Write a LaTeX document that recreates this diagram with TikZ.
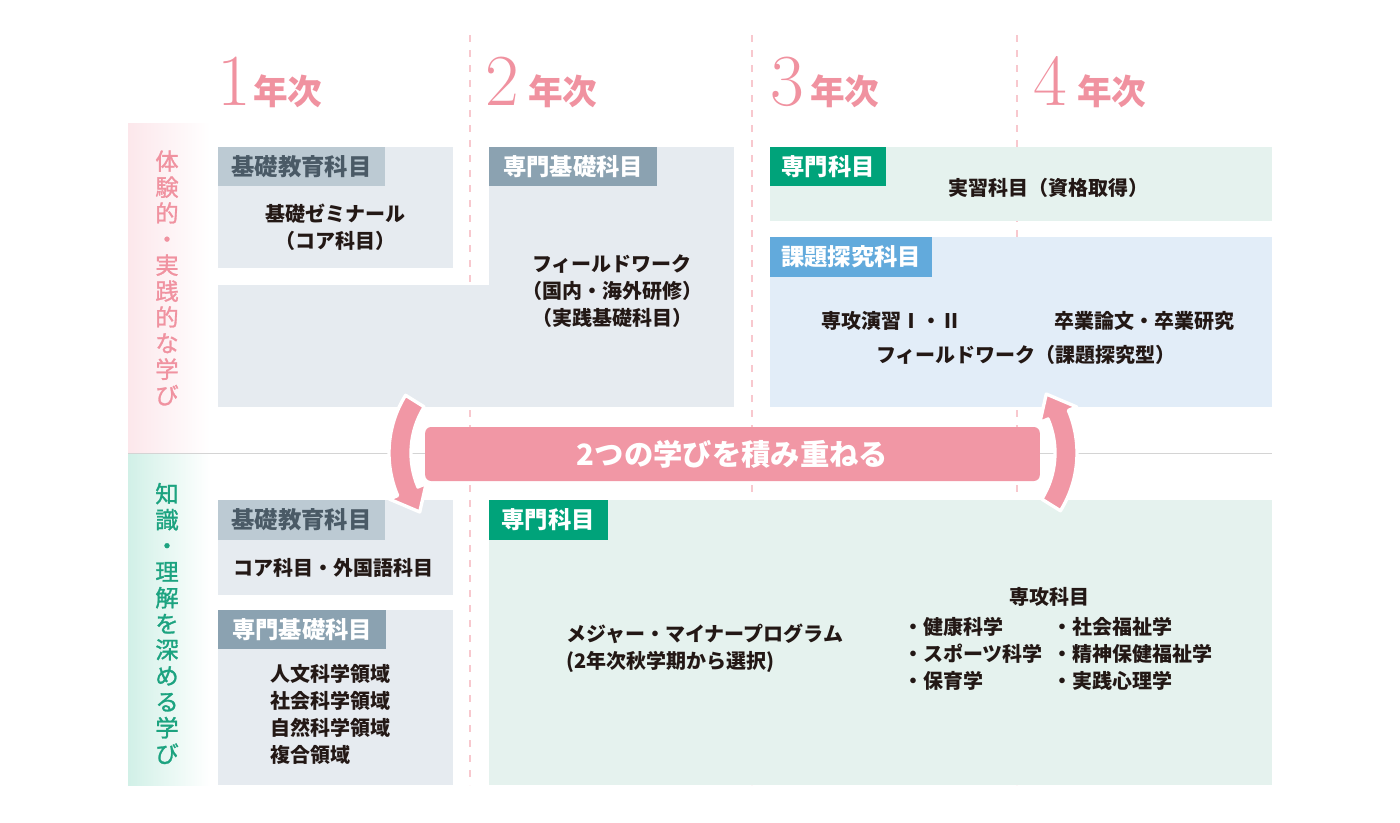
\documentclass[tikz,border=0pt]{standalone}
\usepackage{fontspec}
\usepackage{xcolor}
\usetikzlibrary{calc}
\newfontfamily\jpfont{Noto Sans CJK JP}
\newfontfamily\jpmidfont[FakeBold=1.2]{Noto Sans CJK JP}
\definecolor{yearPink}{RGB}{240,146,160}
\definecolor{bandPink}{RGB}{252,231,235}
\definecolor{bandTeal}{RGB}{209,240,231}
\definecolor{sideTeal}{RGB}{28,163,128}
\definecolor{gridPink}{RGB}{248,200,206}
\definecolor{boxGrey}{RGB}{230,235,240}
\definecolor{tagPale}{RGB}{188,202,211}
\definecolor{tagSlate}{RGB}{139,162,177}
\definecolor{tagInk}{RGB}{74,90,102}
\definecolor{tagGreen}{RGB}{0,163,122}
\definecolor{boxGreen}{RGB}{229,242,238}
\definecolor{tagBlue}{RGB}{98,170,220}
\definecolor{boxBlue}{RGB}{226,237,248}
\definecolor{bannerPink}{RGB}{241,151,165}
\definecolor{bodyInk}{RGB}{35,24,21}
\definecolor{ruleGrey}{RGB}{212,212,212}

\begin{document}
\begin{tikzpicture}[x=0.75pt, y=-0.75pt,
    yearnum/.style={anchor=base west, inner sep=0pt, text=yearPink, font=\fontsize{55}{55}\selectfont},
    yearkanji/.style={anchor=base west, inner sep=0pt, text=yearPink, font=\jpfont\bfseries\fontsize{26}{26}\selectfont},
    sidetext/.style={inner sep=0pt, align=center, font=\jpmidfont\fontsize{17.5}{19.5}\selectfont},
    tagtext/.style={inner sep=0pt, text=white, font=\jpfont\bfseries\fontsize{17.5}{20}\selectfont},
    bodytext/.style={inner sep=0pt, align=center, text=bodyInk, font=\jpfont\bfseries\fontsize{15}{20.3}\selectfont},
    gridline/.style={gridPink, line width=1.5pt, dash pattern=on 5.25pt off 6pt},
    bannerbox/.style={fill=bannerPink, rounded corners=4.5pt, minimum width=461pt, minimum height=40.5pt, inner sep=0pt, text=white, font=\jpfont\bfseries\fontsize{22}{22}\selectfont},
    bentarrow/.style={fill=bannerPink, draw=white, line width=2.5pt, line join=round}]
  \useasboundingbox (0,0) rectangle (1400,822);

  \shade[left color=bandPink, right color=white] (128,123) rectangle (210,453);
  \shade[left color=bandTeal, right color=white] (128,453) rectangle (210,785);
  \draw[ruleGrey, line width=0.75pt] (128,453) -- (1272,453);
  \foreach \gx in {470,752,1017}
    \draw[gridline] (\gx,35) -- (\gx,785);

  \foreach \yr/\nx/\kx in {1/217/253, 2/485/528, 3/770/810, 4/1033/1077} {
    \node[yearnum] (num\yr) at (\nx,105) {\yr};
    \node[yearkanji] (year\yr) at (\kx,104) {年次};
  }

  \node[sidetext, text=yearPink] (practical) at (167,278) {体\\験\\的\\・\\実\\践\\的\\な\\学\\び};
  \node[sidetext, text=sideTeal] (knowledge) at (167,623.5) {知\\識\\・\\理\\解\\を\\深\\め\\る\\学\\び};

  \fill[boxGrey] (218,147) rectangle (453,268);
  \fill[boxGrey] (489,147) rectangle (734,407);
  \fill[boxGrey] (218,285) rectangle (734,407);
  \fill[boxGreen] (770,147) rectangle (1272,221);
  \fill[boxBlue] (770,237) rectangle (1272,407);
  \fill[boxGrey] (218,500) rectangle (453,595);
  \fill[boxGrey] (218,610) rectangle (453,785);
  \fill[boxGreen] (489,500) rectangle (1272,785);

  \fill[tagPale] (218,147) rectangle (385,186);
  \fill[tagSlate] (489,147) rectangle (657,186);
  \fill[tagGreen] (770,147) rectangle (886,186);
  \fill[tagBlue] (770,237) rectangle (932,277);
  \fill[tagPale] (218,500) rectangle (385,540);
  \fill[tagSlate] (218,610) rectangle (386,649);
  \fill[tagGreen] (489,500) rectangle (608,540);

  \node[tagtext, text=tagInk] (basicA) at (301.5,166.5) {基礎教育科目};
  \node[tagtext] (foundA) at (573,166.5) {専門基礎科目};
  \node[tagtext] (majorA) at (828,166.5) {専門科目};
  \node[tagtext] (inquiry) at (851,257) {課題探究科目};
  \node[tagtext, text=tagInk] (basicB) at (301.5,520) {基礎教育科目};
  \node[tagtext] (foundB) at (302,629.5) {専門基礎科目};
  \node[tagtext] (majorB) at (548,520) {専門科目};

  \node[bodytext] (seminar) at (335,227.5) {基礎ゼミナール\\（コア科目）};
  \node[bodytext] (fieldA) at (612,291) {フィールドワーク\\（国内・海外研修）\\（実践基礎科目）};
  \node[bodytext] (practicum) at (1048,188) {実習科目（資格取得）};
  \node[bodytext] (majorsem) at (891,321) {専攻演習Ⅰ・Ⅱ};
  \node[bodytext] (thesis) at (1144,321) {卒業論文・卒業研究};
  \node[bodytext] (fieldB) at (1026,355) {フィールドワーク（課題探究型）};
  \node[bodytext] (core) at (333,568) {コア科目・外国語科目};
  \node[bodytext, anchor=west, align=left] (areas) at (270,714.5) {人文科学領域\\社会科学領域\\自然科学領域\\複合領域};
  \node[bodytext, anchor=west, align=left] (program) at (566,648.5) {メジャー・マイナープログラム\\(2年次秋学期から選択)};
  \node[bodytext] (majorhead) at (1049,597) {専攻科目};
  \node[bodytext, anchor=west, align=left] (listA) at (903,653.5) {・健康科学\\・スポーツ科学\\・保育学};
  \node[bodytext, anchor=west, align=left] (listB) at (1052,653.5) {・社会福祉学\\・精神保健福祉学\\・実践心理学};

  \node[bannerbox] (banner) at (732.5,454) {2つの学びを積み重ねる};

  \coordinate (lc) at (498,453);
  \coordinate (rc) at (968,453);
  \filldraw[bentarrow] ($(lc)+(212:109)$) arc[start angle=212, end angle=157, radius=109]
    -- ($(lc)+(157:118)$) -- ($(lc)+(143:98)$) -- ($(lc)+(157:78)$) -- ($(lc)+(157:87)$)
    arc[start angle=157, end angle=212, radius=87] -- cycle;
  \filldraw[bentarrow] ($(rc)+(32:109)$) arc[start angle=32, end angle=-23, radius=109]
    -- ($(rc)+(-23:118)$) -- ($(rc)+(-37:98)$) -- ($(rc)+(-23:78)$) -- ($(rc)+(-23:87)$)
    arc[start angle=-23, end angle=32, radius=87] -- cycle;
\end{tikzpicture}
\end{document}
